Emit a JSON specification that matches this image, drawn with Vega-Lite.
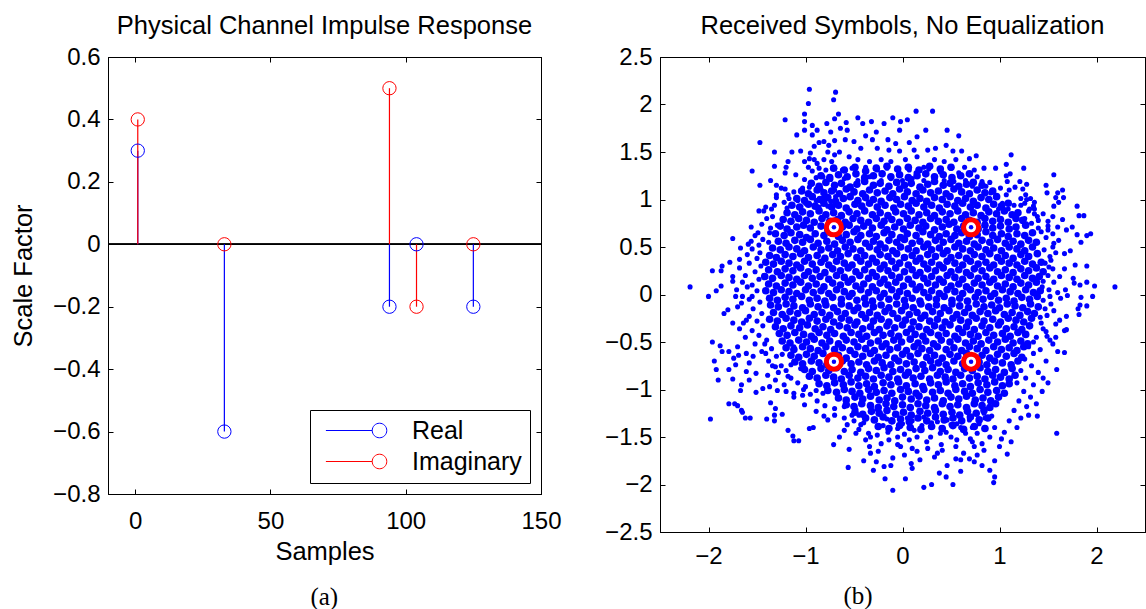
{
"$schema": "https://vega.github.io/schema/vega-lite/v6.json",
"padding": {"left": 11, "top": 13, "right": 0, "bottom": 0},
"background": "white",
"spacing": 42,
"resolve": {"scale": {"color": "independent"}, "legend": {"color": "independent"}},
"config": {
  "font": "Liberation Sans",
  "view": {"stroke": "black", "strokeWidth": 1},
  "axis": {"domainColor": "black", "tickColor": "black", "labelColor": "black", "titleColor": "black", "labelFont": "Liberation Sans", "titleFont": "Liberation Sans", "labelFontSize": 24, "titleFontSize": 25.5, "titleFontWeight": "normal", "grid": false, "tickSize": -5, "labelPadding": 13, "labelFlush": false, "domainWidth": 1, "tickWidth": 1},
  "title": {"font": "Liberation Sans", "fontSize": 25.5, "fontWeight": "normal", "color": "black"}
},
"datasets": {
  "stem": [
    {"n": 1, "v": 0.3, "part": "Real"},
    {"n": 33, "v": -0.6, "part": "Real"},
    {"n": 94, "v": -0.2, "part": "Real"},
    {"n": 104, "v": 0, "part": "Real"},
    {"n": 125, "v": -0.2, "part": "Real"},
    {"n": 1, "v": 0.4, "part": "Imaginary"},
    {"n": 33, "v": 0, "part": "Imaginary"},
    {"n": 94, "v": 0.5, "part": "Imaginary"},
    {"n": 104, "v": -0.2, "part": "Imaginary"},
    {"n": 125, "v": 0, "part": "Imaginary"}
  ],
  "ref": [
    {"x": -0.707, "y": 0.707}, {"x": 0.707, "y": 0.707}, {"x": -0.707, "y": -0.707}, {"x": 0.707, "y": -0.707}
  ],
  "rx": [
{"x":-0.96,"y":2.16},{"x":-0.69,"y":2.13},{"x":-0.71,"y":2.05},{"x":-0.97,"y":2.01},{"x":-1.01,"y":1.90},{"x":-1.21,"y":1.84},{"x":-1.01,"y":1.82},{"x":-0.93,"y":1.78},{"x":-0.78,"y":1.80},{"x":-0.70,"y":1.85},{"x":-1.01,"y":1.73},{"x":-0.88,"y":1.73},{"x":-0.74,"y":1.71},{"x":-1.09,"y":1.68},{"x":-0.93,"y":1.68},{"x":-1.47,"y":1.60},{"x":-0.91,"y":1.56},{"x":-0.86,"y":1.60},{"x":-0.81,"y":1.61},{"x":-0.76,"y":1.57},{"x":-0.70,"y":1.62},{"x":-1.32,"y":1.50},{"x":-1.14,"y":1.50},{"x":-1.05,"y":1.51},{"x":-0.95,"y":1.49},{"x":-0.77,"y":1.50},{"x":-0.70,"y":1.47},{"x":-1.18,"y":1.40},{"x":-1.01,"y":1.40},{"x":-0.96,"y":1.43},{"x":-0.91,"y":1.42},{"x":-0.88,"y":1.38},{"x":-0.81,"y":1.42},{"x":-0.73,"y":1.40},{"x":-1.55,"y":1.30},{"x":-1.32,"y":1.35},{"x":-1.20,"y":1.34},{"x":-0.97,"y":1.34},{"x":-0.93,"y":1.30},{"x":-0.86,"y":1.33},{"x":-0.79,"y":1.31},{"x":-0.70,"y":1.33},{"x":-1.21,"y":1.28},{"x":-1.10,"y":1.26},{"x":-1.01,"y":1.21},{"x":-0.89,"y":1.23},{"x":-0.82,"y":1.24},{"x":-0.74,"y":1.21},{"x":-1.36,"y":1.20},{"x":-1.47,"y":1.15},{"x":-1.30,"y":1.15},{"x":-1.21,"y":1.11},{"x":-1.12,"y":1.08},{"x":-1.03,"y":1.12},{"x":-0.96,"y":1.13},{"x":-0.84,"y":1.11},{"x":-0.70,"y":1.10},{"x":-1.41,"y":0.92},{"x":-1.32,"y":0.94},{"x":-1.30,"y":1.02},{"x":-1.17,"y":1.01},{"x":-1.08,"y":0.99},{"x":-1.00,"y":0.96},{"x":-0.89,"y":0.99},{"x":-0.81,"y":1.02},{"x":-0.74,"y":0.98},{"x":-0.69,"y":1.03},{"x":-1.19,"y":0.91},{"x":-1.05,"y":0.92},{"x":-0.86,"y":0.92},{"x":-0.77,"y":0.93},
{"x":-0.66,"y":1.90},{"x":0.14,"y":1.93},{"x":0.31,"y":1.93},{"x":-0.46,"y":1.86},{"x":-0.32,"y":1.82},{"x":-0.19,"y":1.80},{"x":-0.10,"y":1.86},{"x":-0.02,"y":1.82},{"x":0.05,"y":1.84},{"x":-0.41,"y":1.80},{"x":-0.58,"y":1.81},{"x":-0.64,"y":1.75},{"x":-0.57,"y":1.73},{"x":-0.27,"y":1.71},{"x":-0.03,"y":1.73},{"x":0.24,"y":1.73},{"x":0.46,"y":1.73},{"x":0.58,"y":1.67},{"x":-0.50,"y":1.61},{"x":-0.38,"y":1.67},{"x":-0.31,"y":1.63},{"x":-0.15,"y":1.63},{"x":-0.07,"y":1.59},{"x":0.07,"y":1.60},{"x":0.15,"y":1.66},{"x":-0.59,"y":1.63},{"x":-0.43,"y":1.54},{"x":-0.26,"y":1.54},{"x":-0.14,"y":1.52},{"x":-0.03,"y":1.51},{"x":0.12,"y":1.52},{"x":0.26,"y":1.52},{"x":0.34,"y":1.54},{"x":0.45,"y":1.57},{"x":0.52,"y":1.51},{"x":0.61,"y":1.51},{"x":0.76,"y":1.46},{"x":-0.65,"y":1.50},{"x":-0.55,"y":1.45},{"x":-0.46,"y":1.42},{"x":-0.34,"y":1.40},{"x":-0.22,"y":1.42},{"x":-0.12,"y":1.40},{"x":0.03,"y":1.42},{"x":0.15,"y":1.45},{"x":0.22,"y":1.34},{"x":0.33,"y":1.42},{"x":0.43,"y":1.40},{"x":0.55,"y":1.42},{"x":0.69,"y":1.43},{"x":0.64,"y":1.34},{"x":0.74,"y":1.31},{"x":0.84,"y":1.33},{"x":-0.62,"y":1.31},{"x":-0.52,"y":1.33},{"x":-0.38,"y":1.34},{"x":-0.26,"y":1.31},{"x":-0.16,"y":1.33},{"x":-0.05,"y":1.31},{"x":0.07,"y":1.31},{"x":0.14,"y":1.28},{"x":0.27,"y":1.32},{"x":0.39,"y":1.29},{"x":0.50,"y":1.33},{"x":0.58,"y":1.28},{"x":0.77,"y":1.24},{"x":0.82,"y":1.19},{"x":0.86,"y":1.14},{"x":-0.60,"y":1.22},{"x":-0.46,"y":1.20},{"x":-0.34,"y":1.24},{"x":-0.22,"y":1.20},{"x":-0.12,"y":1.22},{"x":0.00,"y":1.20},{"x":0.10,"y":1.22},{"x":0.22,"y":1.20},{"x":0.33,"y":1.22},{"x":0.43,"y":1.20},{"x":0.53,"y":1.19},{"x":0.65,"y":1.20},{"x":0.72,"y":1.14},
{"x":1.12,"y":1.47},{"x":0.96,"y":1.33},{"x":1.07,"y":1.37},{"x":1.25,"y":1.33},{"x":1.07,"y":1.25},{"x":1.11,"y":1.27},{"x":1.56,"y":1.26},{"x":0.90,"y":1.18},{"x":1.01,"y":1.12},{"x":1.08,"y":1.19},{"x":1.21,"y":1.19},{"x":1.28,"y":1.16},{"x":1.48,"y":1.15},{"x":1.65,"y":1.10},{"x":1.60,"y":1.07},{"x":1.49,"y":1.07},{"x":1.58,"y":1.02},{"x":1.66,"y":1.02},{"x":1.61,"y":0.97},{"x":1.80,"y":0.93},{"x":1.56,"y":0.93},{"x":1.10,"y":1.10},{"x":1.16,"y":1.13},{"x":1.24,"y":1.11},{"x":1.27,"y":1.05},{"x":1.32,"y":1.01},{"x":1.36,"y":0.97},{"x":1.22,"y":1.01},{"x":1.07,"y":1.05},{"x":0.96,"y":1.03},{"x":0.91,"y":1.07},{"x":0.94,"y":0.96},{"x":1.03,"y":0.96},{"x":1.15,"y":0.94},{"x":1.26,"y":0.96},{"x":1.31,"y":0.90},{"x":1.36,"y":0.90},{"x":1.09,"y":0.90},{"x":0.99,"y":0.90},
{"x":-2.19,"y":0.08},{"x":-2.00,"y":-0.02},{"x":-1.92,"y":0.04},{"x":-1.87,"y":0.09},{"x":-1.96,"y":0.25},{"x":-1.87,"y":0.25},{"x":-1.86,"y":0.30},{"x":-1.78,"y":0.34},{"x":-1.75,"y":0.59},{"x":-1.68,"y":0.37},{"x":-1.67,"y":0.49},{"x":-1.59,"y":0.53},{"x":-1.56,"y":0.71},{"x":-1.49,"y":0.65},{"x":-1.48,"y":0.52},{"x":-1.43,"y":0.88},{"x":-1.34,"y":0.82},{"x":-1.29,"y":0.73},{"x":-1.37,"y":0.65},{"x":-1.75,"y":0.19},{"x":-1.75,"y":0.14},{"x":-1.71,"y":0.05},{"x":-1.60,"y":0.08},{"x":-1.65,"y":-0.02},{"x":-1.80,"y":-0.16},{"x":-1.84,"y":-0.20},{"x":-1.70,"y":-0.13},{"x":-1.75,"y":-0.30},{"x":-1.68,"y":-0.36},{"x":-1.61,"y":-0.27},{"x":-1.55,"y":-0.02},
{"x":-1.48,"y":0.88},{"x":-1.40,"y":0.80},{"x":-1.45,"y":0.74},{"x":-1.36,"y":0.70},{"x":-1.52,"y":0.62},{"x":-1.44,"y":0.58},{"x":-1.38,"y":0.55},{"x":-1.55,"y":0.48},{"x":-1.47,"y":0.44},{"x":-1.50,"y":0.38},{"x":-1.58,"y":0.33},{"x":-1.46,"y":0.30},{"x":-1.52,"y":0.24},{"x":-1.62,"y":0.20},{"x":-1.48,"y":0.16},{"x":-1.55,"y":0.10},{"x":-1.65,"y":0.13},{"x":-1.50,"y":0.04},{"x":-1.58,"y":-0.05},{"x":-1.47,"y":-0.08},{"x":-1.66,"y":-0.09},{"x":-1.54,"y":-0.15},{"x":-1.45,"y":-0.20},{"x":-1.58,"y":-0.23},{"x":-1.50,"y":-0.28},{"x":-1.44,"y":-0.33},{"x":-1.55,"y":-0.38},{"x":-1.48,"y":-0.43},{"x":-1.62,"y":-0.45},{"x":-1.40,"y":-0.48},{"x":-1.52,"y":-0.52},{"x":-1.35,"y":-0.57},{"x":-1.45,"y":-0.60},{"x":-1.30,"y":-0.65},{"x":-1.38,"y":-0.70},{"x":-1.25,"y":-0.75},{"x":-1.20,"y":-0.80},{"x":-1.15,"y":-0.88},{"x":-1.08,"y":-0.93},{"x":-1.02,"y":-1.00},{"x":-0.95,"y":-1.05},{"x":-0.88,"y":-1.12},{"x":-0.80,"y":-1.17},{"x":-0.70,"y":-1.20},{"x":-1.28,"y":-0.82},{"x":-1.22,"y":-0.95},{"x":-1.12,"y":-1.08},{"x":-1.42,"y":-0.52},{"x":-1.56,"y":0.56},{"x":-1.60,"y":0.42},{"x":-1.68,"y":0.28},{"x":-1.72,"y":-0.02},{"x":-1.64,"y":-0.30},{"x":-1.70,"y":-0.55},{"x":-1.58,"y":-0.72},{"x":-1.30,"y":1.05},{"x":-1.22,"y":0.97},{"x":-1.35,"y":0.90},{"x":-1.25,"y":1.12},{"x":-1.18,"y":1.05},
{"x":2.19,"y":0.08},{"x":1.98,"y":0.09},{"x":1.96,"y":-0.02},{"x":1.90,"y":0.13},{"x":1.83,"y":0.10},{"x":1.77,"y":0.12},{"x":1.90,"y":0.30},{"x":1.76,"y":0.17},{"x":1.84,"y":-0.03},{"x":1.83,"y":-0.11},{"x":1.90,"y":-0.12},{"x":1.81,"y":-0.15},{"x":1.82,"y":-0.21},{"x":1.69,"y":-0.23},{"x":1.69,"y":-0.37},{"x":1.58,"y":-0.31},{"x":1.62,"y":-0.27},{"x":1.87,"y":0.83},{"x":1.82,"y":0.83},{"x":1.94,"y":0.64},{"x":1.90,"y":0.62},{"x":1.80,"y":0.63},{"x":1.84,"y":0.55},{"x":1.75,"y":0.71},{"x":1.65,"y":0.79},{"x":1.69,"y":0.68},{"x":1.73,"y":0.46},{"x":1.67,"y":0.43},{"x":1.78,"y":0.31},{"x":1.67,"y":0.27},{"x":1.62,"y":0.19},{"x":1.68,"y":0.05},{"x":1.70,"y":-0.01},{"x":1.60,"y":0.02},{"x":1.63,"y":-0.04},{"x":1.53,"y":-0.10},{"x":1.56,"y":-0.17},{"x":1.49,"y":-0.22},{"x":1.43,"y":-0.30},{"x":1.48,"y":-0.39},{"x":1.58,"y":-0.45},{"x":1.49,"y":-0.44},{"x":1.61,"y":0.57},{"x":1.56,"y":0.54},{"x":1.55,"y":0.64},{"x":1.50,"y":0.68},{"x":1.60,"y":0.71},{"x":1.50,"y":0.77},{"x":1.39,"y":0.82},{"x":1.36,"y":0.85},{"x":1.55,"y":0.82},{"x":1.53,"y":0.36},{"x":1.51,"y":0.29},{"x":1.56,"y":0.13},{"x":1.51,"y":0.05},{"x":1.44,"y":0.08},
{"x":1.45,"y":0.85},{"x":1.40,"y":0.78},{"x":1.50,"y":0.72},{"x":1.43,"y":0.66},{"x":1.48,"y":0.60},{"x":1.55,"y":0.50},{"x":1.46,"y":0.47},{"x":1.52,"y":0.40},{"x":1.58,"y":0.44},{"x":1.47,"y":0.33},{"x":1.55,"y":0.27},{"x":1.50,"y":0.20},{"x":1.45,"y":0.14},{"x":1.52,"y":-0.02},{"x":1.45,"y":-0.06},{"x":1.47,"y":-0.15},{"x":1.42,"y":-0.24},{"x":1.45,"y":-0.36},{"x":1.38,"y":-0.45},{"x":1.35,"y":-0.50},{"x":1.28,"y":1.00},{"x":1.22,"y":0.94},{"x":1.30,"y":0.88},{"x":1.35,"y":0.93},{"x":1.26,"y":0.80},{"x":1.33,"y":0.75},{"x":1.40,"y":0.70},
{"x":-1.98,"y":-1.31},{"x":-1.96,"y":-0.50},{"x":-1.88,"y":-0.54},{"x":-1.94,"y":-0.70},{"x":-1.92,"y":-0.79},{"x":-1.90,"y":-0.90},{"x":-1.86,"y":-0.60},{"x":-1.79,"y":-0.60},{"x":-1.79,"y":-0.79},{"x":-1.75,"y":-0.89},{"x":-1.79,"y":-1.15},{"x":-1.70,"y":-1.17},{"x":-1.66,"y":-1.22},{"x":-1.65,"y":-1.24},{"x":-1.62,"y":-1.30},{"x":-1.40,"y":-1.31},{"x":-1.32,"y":-1.27},{"x":-1.32,"y":-1.33},{"x":-1.24,"y":-1.26},{"x":-1.18,"y":-1.43},{"x":-1.13,"y":-1.49},{"x":-1.12,"y":-1.54},{"x":-0.96,"y":-1.41},{"x":-0.71,"y":-1.58},{"x":-1.31,"y":-1.20},{"x":-1.36,"y":-1.14},{"x":-1.51,"y":-1.03},{"x":-1.67,"y":-1.01},{"x":-1.66,"y":-0.95},{"x":-1.72,"y":-0.74},{"x":-1.74,"y":-0.67},{"x":-1.69,"y":-0.64},{"x":-1.61,"y":-0.62},{"x":-1.54,"y":-0.65},{"x":-1.41,"y":-0.62},{"x":-1.24,"y":-0.63},{"x":-1.12,"y":-0.55},{"x":-1.15,"y":-0.74},{"x":-1.18,"y":-0.86},{"x":-1.37,"y":-0.97},{"x":-1.44,"y":-0.99},{"x":-1.51,"y":-0.83},{"x":-1.61,"y":-0.81},{"x":-1.58,"y":-0.90},{"x":-1.29,"y":-1.01},{"x":-1.20,"y":-1.02},{"x":-1.12,"y":-1.04},{"x":-1.01,"y":-1.16},{"x":-0.89,"y":-1.23},{"x":-0.81,"y":-1.28},{"x":-0.77,"y":-1.32},{"x":-0.70,"y":-1.27},{"x":-1.34,"y":-0.75},{"x":-1.31,"y":-0.76},{"x":-1.05,"y":-0.78},{"x":-0.93,"y":-0.81},{"x":-1.00,"y":-0.97},{"x":-0.89,"y":-1.01},{"x":-0.82,"y":-1.04},{"x":-1.03,"y":-1.06},{"x":-1.31,"y":-0.90},{"x":-1.39,"y":-0.85},
{"x":-0.60,"y":-1.30},{"x":-0.60,"y":-1.43},{"x":-0.57,"y":-1.37},{"x":-0.48,"y":-1.46},{"x":-0.52,"y":-1.27},{"x":-0.45,"y":-1.27},{"x":-0.43,"y":-1.37},{"x":-0.38,"y":-1.53},{"x":-0.34,"y":-1.60},{"x":-0.33,"y":-1.67},{"x":-0.27,"y":-1.76},{"x":-0.22,"y":-1.57},{"x":-0.19,"y":-1.81},{"x":-0.14,"y":-1.53},{"x":-0.10,"y":-1.72},{"x":-0.05,"y":-1.50},{"x":-0.02,"y":-1.60},{"x":0.02,"y":-1.69},{"x":0.07,"y":-1.53},{"x":0.09,"y":-1.78},{"x":0.15,"y":-1.65},{"x":0.18,"y":-1.74},{"x":0.26,"y":-1.62},{"x":0.33,"y":-1.71},{"x":0.36,"y":-1.67},{"x":0.41,"y":-1.64},{"x":0.46,"y":-1.80},{"x":0.55,"y":-1.73},{"x":0.60,"y":-1.74},{"x":0.63,"y":-1.67},{"x":0.69,"y":-1.73},{"x":0.72,"y":-1.55},{"x":0.74,"y":-1.60},{"x":0.77,"y":-1.69},{"x":0.82,"y":-1.57},{"x":0.84,"y":-1.64},{"x":-0.33,"y":-1.50},{"x":-0.26,"y":-1.48},{"x":-0.05,"y":-1.41},{"x":0.12,"y":-1.43},{"x":0.29,"y":-1.50},{"x":0.39,"y":-1.46},{"x":0.50,"y":-1.50},{"x":0.56,"y":-1.53},{"x":0.65,"y":-1.46},{"x":0.77,"y":-1.46},{"x":-0.60,"y":-1.18},{"x":-0.48,"y":-1.21},{"x":-0.26,"y":-1.21},{"x":-0.16,"y":-1.31},{"x":0.05,"y":-1.30},{"x":0.22,"y":-1.29},{"x":0.36,"y":-1.34},{"x":0.46,"y":-1.32},{"x":0.56,"y":-1.36},{"x":0.69,"y":-1.32},{"x":0.79,"y":-1.36},{"x":0.84,"y":-1.25},
{"x":-0.50,"y":-1.33},{"x":-0.40,"y":-1.35},{"x":-0.30,"y":-1.32},{"x":-0.20,"y":-1.38},{"x":-0.10,"y":-1.34},{"x":0.00,"y":-1.36},{"x":0.10,"y":-1.33},{"x":0.20,"y":-1.38},{"x":0.30,"y":-1.35},{"x":0.40,"y":-1.40},{"x":0.50,"y":-1.37},{"x":0.60,"y":-1.40},{"x":0.72,"y":-1.40},{"x":0.85,"y":-1.30},{"x":0.92,"y":-1.28},{"x":0.95,"y":-1.40},{"x":0.90,"y":-1.50},{"x":-0.15,"y":-1.45},{"x":0.02,"y":-1.47},{"x":0.15,"y":-1.50},{"x":0.45,"y":-1.45},{"x":-0.45,"y":-1.42},{"x":-0.35,"y":-1.46},{"x":0.70,"y":-1.52},{"x":0.25,"y":-1.55},{"x":-0.05,"y":-1.58},{"x":0.55,"y":-1.60},{"x":-0.25,"y":-1.65},{"x":0.10,"y":-1.62},{"x":0.40,"y":-1.58},
{"x":0.95,"y":-1.92},{"x":0.94,"y":-1.98},{"x":0.52,"y":-2.00},{"x":0.22,"y":-2.03},{"x":0.30,"y":-2.00},{"x":-0.10,"y":-2.06},{"x":0.03,"y":-1.94},{"x":-0.18,"y":-1.94},{"x":-0.56,"y":-1.82},{"x":-0.92,"y":-1.40},{"x":-1.07,"y":-1.54},{"x":-1.57,"y":-1.30},{"x":-1.73,"y":-1.15},{"x":0.74,"y":-1.76},{"x":0.82,"y":-1.80},{"x":0.60,"y":-1.86},{"x":0.38,"y":-1.88},{"x":-0.40,"y":-1.75},{"x":-0.30,"y":-1.85},{"x":0.10,"y":-1.83},{"x":0.45,"y":-1.92},{"x":-0.12,"y":-1.80},{"x":-0.55,"y":-1.63},{"x":-0.65,"y":-1.50},
{"x":1.67,"y":-0.38},{"x":1.67,"y":-0.61},{"x":1.59,"y":-0.79},{"x":1.50,"y":-0.93},{"x":1.59,"y":-1.46},{"x":1.39,"y":-1.28},{"x":1.30,"y":-0.55},{"x":1.35,"y":-0.62},{"x":1.42,"y":-0.58},{"x":1.48,"y":-0.70},{"x":1.33,"y":-0.75},{"x":1.40,"y":-0.82},{"x":1.27,"y":-0.88},{"x":1.35,"y":-0.95},{"x":1.45,"y":-0.88},{"x":1.25,"y":-1.02},{"x":1.32,"y":-1.08},{"x":1.20,"y":-1.12},{"x":1.28,"y":-1.18},{"x":1.15,"y":-1.22},{"x":1.22,"y":-1.30},{"x":1.10,"y":-1.33},{"x":1.18,"y":-1.40},{"x":1.05,"y":-1.45},{"x":1.55,"y":-0.52},{"x":1.60,"y":-0.60},{"x":1.52,"y":-0.48},{"x":1.44,"y":-1.02},{"x":1.38,"y":-1.15},{"x":1.30,"y":-1.27},{"x":1.12,"y":-1.55},{"x":1.00,"y":-1.60},{"x":1.08,"y":-1.68},{"x":0.95,"y":-1.75},{"x":0.90,"y":-1.85},{"x":1.02,"y":-1.52},{"x":1.26,"y":-0.68},{"x":1.22,"y":-0.80},{"x":1.18,"y":-0.93}
  ],
  "core": [
{"x":-0.71,"y":1.33},{"x":-0.60,"y":1.31},{"x":-0.49,"y":1.34},{"x":-0.38,"y":1.30},{"x":-0.27,"y":1.33},{"x":-0.16,"y":1.35},{"x":-0.05,"y":1.32},{"x":0.06,"y":1.34},{"x":0.17,"y":1.31},{"x":0.28,"y":1.35},{"x":0.39,"y":1.32},{"x":0.50,"y":1.34},
{"x":-0.84,"y":1.25},{"x":-0.75,"y":1.23},{"x":-0.66,"y":1.26},{"x":-0.57,"y":1.24},{"x":-0.48,"y":1.27},{"x":-0.39,"y":1.23},{"x":-0.30,"y":1.25},{"x":-0.21,"y":1.27},{"x":-0.12,"y":1.24},{"x":-0.03,"y":1.26},{"x":0.06,"y":1.23},{"x":0.15,"y":1.25},{"x":0.24,"y":1.27},{"x":0.33,"y":1.24},{"x":0.42,"y":1.26},{"x":0.51,"y":1.23},{"x":0.60,"y":1.25},{"x":0.69,"y":1.27},
{"x":-0.94,"y":1.17},{"x":-0.86,"y":1.14},{"x":-0.79,"y":1.18},{"x":-0.70,"y":1.15},{"x":-0.63,"y":1.17},{"x":-0.54,"y":1.13},{"x":-0.47,"y":1.16},{"x":-0.39,"y":1.19},{"x":-0.30,"y":1.15},{"x":-0.23,"y":1.17},{"x":-0.14,"y":1.14},{"x":-0.06,"y":1.18},{"x":0.02,"y":1.15},{"x":0.09,"y":1.17},{"x":0.18,"y":1.13},{"x":0.26,"y":1.16},{"x":0.33,"y":1.19},{"x":0.42,"y":1.15},{"x":0.49,"y":1.17},{"x":0.58,"y":1.14},{"x":0.66,"y":1.16},{"x":0.73,"y":1.18},{"x":0.82,"y":1.15},
{"x":-1.04,"y":1.09},{"x":-0.97,"y":1.06},{"x":-0.88,"y":1.10},{"x":-0.81,"y":1.07},{"x":-0.73,"y":1.09},{"x":-0.65,"y":1.06},{"x":-0.58,"y":1.11},{"x":-0.50,"y":1.08},{"x":-0.41,"y":1.06},{"x":-0.34,"y":1.10},{"x":-0.26,"y":1.07},{"x":-0.18,"y":1.09},{"x":-0.10,"y":1.06},{"x":-0.03,"y":1.11},{"x":0.05,"y":1.08},{"x":0.14,"y":1.06},{"x":0.21,"y":1.10},{"x":0.29,"y":1.07},{"x":0.37,"y":1.09},{"x":0.45,"y":1.06},{"x":0.53,"y":1.11},{"x":0.61,"y":1.08},{"x":0.69,"y":1.06},{"x":0.77,"y":1.10},{"x":0.85,"y":1.07},{"x":0.93,"y":1.09},
{"x":-1.09,"y":1.01},{"x":-1.01,"y":0.99},{"x":-0.93,"y":1.03},{"x":-0.85,"y":1.00},{"x":-0.77,"y":1.02},{"x":-0.69,"y":0.98},{"x":-0.61,"y":1.01},{"x":-0.54,"y":1.03},{"x":-0.46,"y":0.99},{"x":-0.38,"y":1.02},{"x":-0.30,"y":1.00},{"x":-0.22,"y":0.98},{"x":-0.13,"y":1.02},{"x":-0.06,"y":1.00},{"x":0.02,"y":1.03},{"x":0.10,"y":0.99},{"x":0.18,"y":1.01},{"x":0.25,"y":0.98},{"x":0.33,"y":1.02},{"x":0.41,"y":1.00},{"x":0.49,"y":1.03},{"x":0.57,"y":0.99},{"x":0.65,"y":1.01},{"x":0.73,"y":0.98},{"x":0.81,"y":1.02},{"x":0.89,"y":1.00},{"x":0.97,"y":1.03},
{"x":-1.14,"y":0.94},{"x":-1.06,"y":0.92},{"x":-0.97,"y":0.95},{"x":-0.90,"y":0.93},{"x":-0.81,"y":0.96},{"x":-0.73,"y":0.92},{"x":-0.66,"y":0.94},{"x":-0.58,"y":0.91},{"x":-0.49,"y":0.95},{"x":-0.42,"y":0.93},{"x":-0.34,"y":0.96},{"x":-0.26,"y":0.92},{"x":-0.18,"y":0.94},{"x":-0.09,"y":0.91},{"x":-0.02,"y":0.95},{"x":0.06,"y":0.93},{"x":0.14,"y":0.96},{"x":0.22,"y":0.92},{"x":0.30,"y":0.94},{"x":0.38,"y":0.91},{"x":0.46,"y":0.95},{"x":0.54,"y":0.93},{"x":0.62,"y":0.96},{"x":0.70,"y":0.92},{"x":0.77,"y":0.94},{"x":0.86,"y":0.91},{"x":0.94,"y":0.95},{"x":1.02,"y":0.93},{"x":1.09,"y":0.96},
{"x":-1.19,"y":0.86},{"x":-1.11,"y":0.84},{"x":-1.03,"y":0.87},{"x":-0.95,"y":0.85},{"x":-0.86,"y":0.88},{"x":-0.79,"y":0.84},{"x":-0.71,"y":0.86},{"x":-0.63,"y":0.83},{"x":-0.55,"y":0.87},{"x":-0.47,"y":0.85},{"x":-0.39,"y":0.88},{"x":-0.31,"y":0.84},{"x":-0.23,"y":0.86},{"x":-0.15,"y":0.83},{"x":-0.07,"y":0.87},{"x":0.01,"y":0.85},{"x":0.09,"y":0.88},{"x":0.17,"y":0.84},{"x":0.25,"y":0.86},{"x":0.33,"y":0.83},{"x":0.41,"y":0.87},{"x":0.49,"y":0.85},{"x":0.57,"y":0.88},{"x":0.65,"y":0.84},{"x":0.73,"y":0.86},{"x":0.81,"y":0.83},{"x":0.89,"y":0.87},{"x":0.97,"y":0.85},{"x":1.05,"y":0.88},{"x":1.13,"y":0.84},{"x":1.19,"y":0.86},
{"x":-1.23,"y":0.79},{"x":-1.15,"y":0.77},{"x":-1.07,"y":0.80},{"x":-0.99,"y":0.78},{"x":-0.91,"y":0.76},{"x":-0.83,"y":0.80},{"x":-0.75,"y":0.77},{"x":-0.67,"y":0.79},{"x":-0.59,"y":0.76},{"x":-0.51,"y":0.80},{"x":-0.43,"y":0.78},{"x":-0.35,"y":0.76},{"x":-0.27,"y":0.80},{"x":-0.19,"y":0.77},{"x":-0.11,"y":0.79},{"x":-0.03,"y":0.76},{"x":0.05,"y":0.80},{"x":0.13,"y":0.78},{"x":0.21,"y":0.76},{"x":0.29,"y":0.80},{"x":0.37,"y":0.77},{"x":0.45,"y":0.79},{"x":0.53,"y":0.76},{"x":0.61,"y":0.80},{"x":0.69,"y":0.78},{"x":0.77,"y":0.76},{"x":0.85,"y":0.80},{"x":0.93,"y":0.77},{"x":1.01,"y":0.79},{"x":1.09,"y":0.76},{"x":1.17,"y":0.80},{"x":1.24,"y":0.78},
{"x":-1.26,"y":0.72},{"x":-1.19,"y":0.69},{"x":-1.09,"y":0.71},{"x":-1.02,"y":0.73},{"x":-0.95,"y":0.70},{"x":-0.84,"y":0.72},{"x":-0.77,"y":0.68},{"x":-0.62,"y":0.71},{"x":-0.55,"y":0.73},{"x":-0.47,"y":0.69},{"x":-0.40,"y":0.72},{"x":-0.31,"y":0.70},{"x":-0.22,"y":0.73},{"x":-0.16,"y":0.68},{"x":-0.08,"y":0.71},{"x":0.01,"y":0.69},{"x":0.08,"y":0.73},{"x":0.17,"y":0.70},{"x":0.24,"y":0.72},{"x":0.33,"y":0.68},{"x":0.41,"y":0.71},{"x":0.48,"y":0.74},{"x":0.56,"y":0.69},{"x":0.63,"y":0.72},{"x":0.78,"y":0.69},{"x":0.85,"y":0.73},{"x":0.93,"y":0.70},{"x":1.01,"y":0.72},{"x":1.10,"y":0.69},{"x":1.17,"y":0.71},{"x":1.27,"y":0.73},
{"x":-1.31,"y":0.64},{"x":-1.22,"y":0.62},{"x":-1.15,"y":0.65},{"x":-1.06,"y":0.63},{"x":-0.99,"y":0.60},{"x":-0.90,"y":0.64},{"x":-0.81,"y":0.62},{"x":-0.74,"y":0.65},{"x":-0.66,"y":0.61},{"x":-0.58,"y":0.63},{"x":-0.50,"y":0.66},{"x":-0.43,"y":0.62},{"x":-0.34,"y":0.64},{"x":-0.27,"y":0.61},{"x":-0.19,"y":0.65},{"x":-0.11,"y":0.63},{"x":-0.02,"y":0.60},{"x":0.05,"y":0.64},{"x":0.14,"y":0.62},{"x":0.21,"y":0.66},{"x":0.29,"y":0.63},{"x":0.38,"y":0.61},{"x":0.45,"y":0.64},{"x":0.54,"y":0.62},{"x":0.61,"y":0.65},{"x":0.69,"y":0.61},{"x":0.77,"y":0.63},{"x":0.86,"y":0.66},{"x":0.93,"y":0.62},{"x":1.02,"y":0.64},{"x":1.09,"y":0.61},{"x":1.18,"y":0.64},{"x":1.26,"y":0.62},{"x":1.34,"y":0.65},
{"x":-1.28,"y":0.56},{"x":-1.20,"y":0.54},{"x":-1.11,"y":0.57},{"x":-1.03,"y":0.55},{"x":-0.95,"y":0.58},{"x":-0.87,"y":0.54},{"x":-0.78,"y":0.56},{"x":-0.70,"y":0.53},{"x":-0.62,"y":0.57},{"x":-0.54,"y":0.55},{"x":-0.46,"y":0.58},{"x":-0.38,"y":0.54},{"x":-0.30,"y":0.56},{"x":-0.23,"y":0.53},{"x":-0.14,"y":0.57},{"x":-0.06,"y":0.55},{"x":0.02,"y":0.58},{"x":0.10,"y":0.54},{"x":0.18,"y":0.56},{"x":0.26,"y":0.53},{"x":0.34,"y":0.57},{"x":0.42,"y":0.55},{"x":0.50,"y":0.58},{"x":0.58,"y":0.54},{"x":0.66,"y":0.56},{"x":0.74,"y":0.53},{"x":0.82,"y":0.57},{"x":0.90,"y":0.55},{"x":0.98,"y":0.58},{"x":1.06,"y":0.54},{"x":1.14,"y":0.56},{"x":1.22,"y":0.53},{"x":1.30,"y":0.57},{"x":1.38,"y":0.55},
{"x":-1.34,"y":0.49},{"x":-1.26,"y":0.47},{"x":-1.17,"y":0.50},{"x":-1.09,"y":0.48},{"x":-1.01,"y":0.46},{"x":-0.92,"y":0.50},{"x":-0.84,"y":0.47},{"x":-0.76,"y":0.49},{"x":-0.67,"y":0.46},{"x":-0.59,"y":0.50},{"x":-0.51,"y":0.48},{"x":-0.43,"y":0.46},{"x":-0.34,"y":0.50},{"x":-0.26,"y":0.47},{"x":-0.18,"y":0.49},{"x":-0.10,"y":0.46},{"x":-0.02,"y":0.50},{"x":0.06,"y":0.48},{"x":0.14,"y":0.46},{"x":0.22,"y":0.50},{"x":0.30,"y":0.47},{"x":0.38,"y":0.49},{"x":0.46,"y":0.46},{"x":0.54,"y":0.50},{"x":0.62,"y":0.48},{"x":0.70,"y":0.46},{"x":0.78,"y":0.50},{"x":0.86,"y":0.47},{"x":0.94,"y":0.49},{"x":1.02,"y":0.46},{"x":1.10,"y":0.50},{"x":1.18,"y":0.48},{"x":1.26,"y":0.46},{"x":1.34,"y":0.50},
{"x":-1.37,"y":0.41},{"x":-1.30,"y":0.39},{"x":-1.21,"y":0.42},{"x":-1.13,"y":0.40},{"x":-1.05,"y":0.43},{"x":-0.97,"y":0.39},{"x":-0.88,"y":0.41},{"x":-0.80,"y":0.38},{"x":-0.72,"y":0.42},{"x":-0.64,"y":0.40},{"x":-0.56,"y":0.43},{"x":-0.47,"y":0.39},{"x":-0.39,"y":0.41},{"x":-0.31,"y":0.38},{"x":-0.23,"y":0.42},{"x":-0.15,"y":0.40},{"x":-0.06,"y":0.43},{"x":0.02,"y":0.39},{"x":0.10,"y":0.41},{"x":0.18,"y":0.38},{"x":0.26,"y":0.42},{"x":0.34,"y":0.40},{"x":0.42,"y":0.43},{"x":0.50,"y":0.39},{"x":0.58,"y":0.41},{"x":0.66,"y":0.38},{"x":0.74,"y":0.42},{"x":0.82,"y":0.40},{"x":0.90,"y":0.43},{"x":0.98,"y":0.39},{"x":1.06,"y":0.41},{"x":1.14,"y":0.38},{"x":1.22,"y":0.42},{"x":1.30,"y":0.40},{"x":1.39,"y":0.43},
{"x":-1.41,"y":0.34},{"x":-1.33,"y":0.32},{"x":-1.25,"y":0.35},{"x":-1.17,"y":0.33},{"x":-1.09,"y":0.31},{"x":-1.01,"y":0.35},{"x":-0.93,"y":0.32},{"x":-0.84,"y":0.34},{"x":-0.76,"y":0.31},{"x":-0.68,"y":0.35},{"x":-0.60,"y":0.33},{"x":-0.52,"y":0.31},{"x":-0.43,"y":0.35},{"x":-0.35,"y":0.32},{"x":-0.27,"y":0.34},{"x":-0.19,"y":0.31},{"x":-0.11,"y":0.35},{"x":-0.03,"y":0.33},{"x":0.06,"y":0.31},{"x":0.14,"y":0.35},{"x":0.22,"y":0.32},{"x":0.30,"y":0.34},{"x":0.38,"y":0.31},{"x":0.46,"y":0.35},{"x":0.54,"y":0.33},{"x":0.62,"y":0.31},{"x":0.70,"y":0.35},{"x":0.78,"y":0.32},{"x":0.86,"y":0.34},{"x":0.94,"y":0.31},{"x":1.02,"y":0.35},{"x":1.10,"y":0.33},{"x":1.18,"y":0.31},{"x":1.26,"y":0.35},{"x":1.34,"y":0.32},{"x":1.43,"y":0.34},
{"x":-1.38,"y":0.26},{"x":-1.29,"y":0.24},{"x":-1.21,"y":0.27},{"x":-1.13,"y":0.25},{"x":-1.05,"y":0.28},{"x":-0.97,"y":0.24},{"x":-0.89,"y":0.26},{"x":-0.80,"y":0.23},{"x":-0.72,"y":0.27},{"x":-0.64,"y":0.25},{"x":-0.56,"y":0.28},{"x":-0.48,"y":0.24},{"x":-0.39,"y":0.26},{"x":-0.31,"y":0.23},{"x":-0.23,"y":0.27},{"x":-0.15,"y":0.25},{"x":-0.07,"y":0.28},{"x":0.02,"y":0.24},{"x":0.10,"y":0.26},{"x":0.18,"y":0.23},{"x":0.26,"y":0.27},{"x":0.34,"y":0.25},{"x":0.42,"y":0.28},{"x":0.50,"y":0.24},{"x":0.58,"y":0.26},{"x":0.66,"y":0.23},{"x":0.74,"y":0.27},{"x":0.82,"y":0.25},{"x":0.90,"y":0.28},{"x":0.98,"y":0.24},{"x":1.06,"y":0.26},{"x":1.14,"y":0.23},{"x":1.22,"y":0.27},{"x":1.30,"y":0.25},{"x":1.38,"y":0.28},{"x":1.45,"y":0.24},
{"x":-1.42,"y":0.19},{"x":-1.34,"y":0.17},{"x":-1.25,"y":0.20},{"x":-1.17,"y":0.18},{"x":-1.09,"y":0.16},{"x":-1.01,"y":0.20},{"x":-0.93,"y":0.17},{"x":-0.85,"y":0.19},{"x":-0.76,"y":0.16},{"x":-0.68,"y":0.20},{"x":-0.60,"y":0.18},{"x":-0.52,"y":0.16},{"x":-0.44,"y":0.20},{"x":-0.35,"y":0.17},{"x":-0.27,"y":0.19},{"x":-0.19,"y":0.16},{"x":-0.11,"y":0.20},{"x":-0.03,"y":0.18},{"x":0.06,"y":0.16},{"x":0.14,"y":0.20},{"x":0.22,"y":0.17},{"x":0.30,"y":0.19},{"x":0.38,"y":0.16},{"x":0.46,"y":0.20},{"x":0.54,"y":0.18},{"x":0.62,"y":0.16},{"x":0.70,"y":0.20},{"x":0.78,"y":0.17},{"x":0.86,"y":0.19},{"x":0.94,"y":0.16},{"x":1.02,"y":0.20},{"x":1.10,"y":0.18},{"x":1.18,"y":0.16},{"x":1.26,"y":0.20},{"x":1.34,"y":0.17},{"x":1.41,"y":0.19},
{"x":-1.38,"y":0.11},{"x":-1.30,"y":0.09},{"x":-1.21,"y":0.12},{"x":-1.13,"y":0.10},{"x":-1.05,"y":0.13},{"x":-0.97,"y":0.09},{"x":-0.89,"y":0.11},{"x":-0.81,"y":0.08},{"x":-0.72,"y":0.12},{"x":-0.64,"y":0.10},{"x":-0.56,"y":0.13},{"x":-0.48,"y":0.09},{"x":-0.40,"y":0.11},{"x":-0.31,"y":0.08},{"x":-0.23,"y":0.12},{"x":-0.15,"y":0.10},{"x":-0.07,"y":0.13},{"x":0.01,"y":0.09},{"x":0.10,"y":0.11},{"x":0.18,"y":0.08},{"x":0.26,"y":0.12},{"x":0.34,"y":0.10},{"x":0.42,"y":0.13},{"x":0.50,"y":0.09},{"x":0.58,"y":0.11},{"x":0.66,"y":0.08},{"x":0.74,"y":0.12},{"x":0.82,"y":0.10},{"x":0.90,"y":0.13},{"x":0.98,"y":0.09},{"x":1.06,"y":0.11},{"x":1.14,"y":0.08},{"x":1.22,"y":0.12},{"x":1.30,"y":0.10},{"x":1.38,"y":0.13},
{"x":-1.41,"y":0.04},{"x":-1.33,"y":0.02},{"x":-1.25,"y":0.05},{"x":-1.17,"y":0.03},{"x":-1.09,"y":0.01},{"x":-1.00,"y":0.05},{"x":-0.92,"y":0.02},{"x":-0.84,"y":0.04},{"x":-0.76,"y":0.01},{"x":-0.68,"y":0.05},{"x":-0.60,"y":0.03},{"x":-0.52,"y":0.01},{"x":-0.43,"y":0.05},{"x":-0.35,"y":0.02},{"x":-0.27,"y":0.04},{"x":-0.19,"y":0.01},{"x":-0.11,"y":0.05},{"x":-0.03,"y":0.03},{"x":0.05,"y":0.01},{"x":0.14,"y":0.05},{"x":0.22,"y":0.02},{"x":0.30,"y":0.04},{"x":0.38,"y":0.01},{"x":0.46,"y":0.05},{"x":0.54,"y":0.03},{"x":0.62,"y":0.01},{"x":0.70,"y":0.05},{"x":0.78,"y":0.02},{"x":0.86,"y":0.04},{"x":0.95,"y":0.01},{"x":1.03,"y":0.05},{"x":1.11,"y":0.03},{"x":1.19,"y":0.01},{"x":1.27,"y":0.05},{"x":1.35,"y":0.02},{"x":1.42,"y":0.04},
{"x":-1.37,"y":-0.04},{"x":-1.29,"y":-0.06},{"x":-1.21,"y":-0.03},{"x":-1.13,"y":-0.05},{"x":-1.04,"y":-0.02},{"x":-0.96,"y":-0.06},{"x":-0.88,"y":-0.04},{"x":-0.80,"y":-0.07},{"x":-0.72,"y":-0.03},{"x":-0.63,"y":-0.05},{"x":-0.55,"y":-0.02},{"x":-0.47,"y":-0.06},{"x":-0.39,"y":-0.04},{"x":-0.31,"y":-0.07},{"x":-0.23,"y":-0.03},{"x":-0.14,"y":-0.05},{"x":-0.06,"y":-0.02},{"x":0.02,"y":-0.06},{"x":0.10,"y":-0.04},{"x":0.18,"y":-0.07},{"x":0.27,"y":-0.03},{"x":0.35,"y":-0.05},{"x":0.43,"y":-0.02},{"x":0.51,"y":-0.06},{"x":0.59,"y":-0.04},{"x":0.67,"y":-0.07},{"x":0.75,"y":-0.03},{"x":0.83,"y":-0.05},{"x":0.91,"y":-0.02},{"x":0.99,"y":-0.06},{"x":1.07,"y":-0.04},{"x":1.15,"y":-0.07},{"x":1.23,"y":-0.03},{"x":1.31,"y":-0.05},{"x":1.39,"y":-0.02},
{"x":-1.36,"y":-0.11},{"x":-1.28,"y":-0.13},{"x":-1.20,"y":-0.10},{"x":-1.12,"y":-0.12},{"x":-1.03,"y":-0.14},{"x":-0.95,"y":-0.10},{"x":-0.87,"y":-0.13},{"x":-0.79,"y":-0.11},{"x":-0.71,"y":-0.14},{"x":-0.63,"y":-0.10},{"x":-0.55,"y":-0.12},{"x":-0.46,"y":-0.14},{"x":-0.38,"y":-0.10},{"x":-0.30,"y":-0.13},{"x":-0.22,"y":-0.11},{"x":-0.14,"y":-0.14},{"x":-0.06,"y":-0.10},{"x":0.03,"y":-0.12},{"x":0.11,"y":-0.14},{"x":0.19,"y":-0.10},{"x":0.27,"y":-0.13},{"x":0.35,"y":-0.11},{"x":0.43,"y":-0.14},{"x":0.51,"y":-0.10},{"x":0.59,"y":-0.12},{"x":0.68,"y":-0.14},{"x":0.76,"y":-0.10},{"x":0.84,"y":-0.13},{"x":0.92,"y":-0.11},{"x":1.00,"y":-0.14},{"x":1.08,"y":-0.10},{"x":1.16,"y":-0.12},{"x":1.24,"y":-0.14},{"x":1.32,"y":-0.10},{"x":1.40,"y":-0.13},
{"x":-1.33,"y":-0.19},{"x":-1.24,"y":-0.21},{"x":-1.16,"y":-0.18},{"x":-1.08,"y":-0.20},{"x":-1.00,"y":-0.17},{"x":-0.91,"y":-0.21},{"x":-0.83,"y":-0.19},{"x":-0.75,"y":-0.22},{"x":-0.67,"y":-0.18},{"x":-0.59,"y":-0.20},{"x":-0.50,"y":-0.17},{"x":-0.42,"y":-0.21},{"x":-0.34,"y":-0.19},{"x":-0.26,"y":-0.22},{"x":-0.18,"y":-0.18},{"x":-0.10,"y":-0.20},{"x":-0.01,"y":-0.17},{"x":0.07,"y":-0.21},{"x":0.15,"y":-0.19},{"x":0.23,"y":-0.22},{"x":0.31,"y":-0.18},{"x":0.39,"y":-0.20},{"x":0.48,"y":-0.17},{"x":0.56,"y":-0.21},{"x":0.64,"y":-0.19},{"x":0.72,"y":-0.22},{"x":0.80,"y":-0.18},{"x":0.88,"y":-0.20},{"x":0.96,"y":-0.17},{"x":1.05,"y":-0.21},{"x":1.13,"y":-0.19},{"x":1.21,"y":-0.22},{"x":1.29,"y":-0.18},{"x":1.36,"y":-0.20},
{"x":-1.37,"y":-0.26},{"x":-1.29,"y":-0.28},{"x":-1.20,"y":-0.25},{"x":-1.12,"y":-0.27},{"x":-1.04,"y":-0.29},{"x":-0.96,"y":-0.25},{"x":-0.88,"y":-0.28},{"x":-0.79,"y":-0.26},{"x":-0.71,"y":-0.29},{"x":-0.63,"y":-0.25},{"x":-0.55,"y":-0.27},{"x":-0.47,"y":-0.29},{"x":-0.38,"y":-0.25},{"x":-0.30,"y":-0.28},{"x":-0.22,"y":-0.26},{"x":-0.14,"y":-0.29},{"x":-0.05,"y":-0.25},{"x":0.03,"y":-0.27},{"x":0.11,"y":-0.29},{"x":0.19,"y":-0.25},{"x":0.28,"y":-0.28},{"x":0.36,"y":-0.26},{"x":0.44,"y":-0.29},{"x":0.52,"y":-0.25},{"x":0.60,"y":-0.27},{"x":0.68,"y":-0.29},{"x":0.76,"y":-0.25},{"x":0.84,"y":-0.28},{"x":0.93,"y":-0.26},{"x":1.01,"y":-0.29},{"x":1.09,"y":-0.25},{"x":1.17,"y":-0.27},{"x":1.25,"y":-0.29},{"x":1.33,"y":-0.25},
{"x":-1.31,"y":-0.34},{"x":-1.23,"y":-0.36},{"x":-1.15,"y":-0.33},{"x":-1.06,"y":-0.35},{"x":-0.98,"y":-0.32},{"x":-0.90,"y":-0.36},{"x":-0.82,"y":-0.34},{"x":-0.74,"y":-0.37},{"x":-0.65,"y":-0.33},{"x":-0.57,"y":-0.35},{"x":-0.49,"y":-0.32},{"x":-0.41,"y":-0.36},{"x":-0.33,"y":-0.34},{"x":-0.24,"y":-0.37},{"x":-0.16,"y":-0.33},{"x":-0.08,"y":-0.35},{"x":0.00,"y":-0.32},{"x":0.09,"y":-0.36},{"x":0.17,"y":-0.34},{"x":0.25,"y":-0.37},{"x":0.33,"y":-0.33},{"x":0.41,"y":-0.35},{"x":0.49,"y":-0.32},{"x":0.58,"y":-0.36},{"x":0.66,"y":-0.34},{"x":0.74,"y":-0.37},{"x":0.82,"y":-0.33},{"x":0.90,"y":-0.35},{"x":0.99,"y":-0.32},{"x":1.07,"y":-0.36},{"x":1.15,"y":-0.34},{"x":1.23,"y":-0.37},{"x":1.31,"y":-0.33},
{"x":-1.27,"y":-0.41},{"x":-1.19,"y":-0.43},{"x":-1.11,"y":-0.40},{"x":-1.02,"y":-0.42},{"x":-0.94,"y":-0.44},{"x":-0.86,"y":-0.40},{"x":-0.78,"y":-0.43},{"x":-0.70,"y":-0.41},{"x":-0.61,"y":-0.44},{"x":-0.53,"y":-0.40},{"x":-0.45,"y":-0.42},{"x":-0.37,"y":-0.44},{"x":-0.29,"y":-0.40},{"x":-0.20,"y":-0.43},{"x":-0.12,"y":-0.41},{"x":-0.04,"y":-0.44},{"x":0.04,"y":-0.40},{"x":0.13,"y":-0.42},{"x":0.21,"y":-0.44},{"x":0.29,"y":-0.40},{"x":0.37,"y":-0.43},{"x":0.45,"y":-0.41},{"x":0.54,"y":-0.44},{"x":0.62,"y":-0.40},{"x":0.70,"y":-0.42},{"x":0.78,"y":-0.44},{"x":0.86,"y":-0.40},{"x":0.94,"y":-0.43},{"x":1.03,"y":-0.41},{"x":1.11,"y":-0.44},{"x":1.19,"y":-0.40},{"x":1.27,"y":-0.42},
{"x":-1.24,"y":-0.49},{"x":-1.16,"y":-0.51},{"x":-1.07,"y":-0.48},{"x":-0.99,"y":-0.50},{"x":-0.91,"y":-0.47},{"x":-0.83,"y":-0.51},{"x":-0.75,"y":-0.49},{"x":-0.66,"y":-0.52},{"x":-0.58,"y":-0.48},{"x":-0.50,"y":-0.50},{"x":-0.42,"y":-0.47},{"x":-0.33,"y":-0.51},{"x":-0.25,"y":-0.49},{"x":-0.17,"y":-0.52},{"x":-0.09,"y":-0.48},{"x":-0.01,"y":-0.50},{"x":0.08,"y":-0.47},{"x":0.16,"y":-0.51},{"x":0.24,"y":-0.49},{"x":0.32,"y":-0.52},{"x":0.40,"y":-0.48},{"x":0.49,"y":-0.50},{"x":0.57,"y":-0.47},{"x":0.65,"y":-0.51},{"x":0.73,"y":-0.49},{"x":0.81,"y":-0.52},{"x":0.89,"y":-0.48},{"x":0.98,"y":-0.50},{"x":1.06,"y":-0.47},{"x":1.14,"y":-0.51},{"x":1.22,"y":-0.49},{"x":1.29,"y":-0.52},
{"x":-1.20,"y":-0.56},{"x":-1.12,"y":-0.58},{"x":-1.03,"y":-0.55},{"x":-0.95,"y":-0.57},{"x":-0.87,"y":-0.59},{"x":-0.79,"y":-0.55},{"x":-0.70,"y":-0.58},{"x":-0.62,"y":-0.56},{"x":-0.54,"y":-0.59},{"x":-0.46,"y":-0.55},{"x":-0.38,"y":-0.57},{"x":-0.29,"y":-0.59},{"x":-0.21,"y":-0.55},{"x":-0.13,"y":-0.58},{"x":-0.05,"y":-0.56},{"x":0.04,"y":-0.59},{"x":0.12,"y":-0.55},{"x":0.20,"y":-0.57},{"x":0.28,"y":-0.59},{"x":0.36,"y":-0.55},{"x":0.45,"y":-0.58},{"x":0.53,"y":-0.56},{"x":0.61,"y":-0.59},{"x":0.69,"y":-0.55},{"x":0.77,"y":-0.57},{"x":0.86,"y":-0.59},{"x":0.94,"y":-0.55},{"x":1.02,"y":-0.58},{"x":1.10,"y":-0.56},{"x":1.18,"y":-0.59},{"x":1.25,"y":-0.55},
{"x":-1.15,"y":-0.64},{"x":-1.07,"y":-0.66},{"x":-0.99,"y":-0.63},{"x":-0.91,"y":-0.65},{"x":-0.82,"y":-0.62},{"x":-0.74,"y":-0.66},{"x":-0.66,"y":-0.64},{"x":-0.58,"y":-0.67},{"x":-0.49,"y":-0.63},{"x":-0.41,"y":-0.65},{"x":-0.33,"y":-0.62},{"x":-0.25,"y":-0.66},{"x":-0.17,"y":-0.64},{"x":-0.08,"y":-0.67},{"x":0.00,"y":-0.63},{"x":0.08,"y":-0.65},{"x":0.16,"y":-0.62},{"x":0.25,"y":-0.66},{"x":0.33,"y":-0.64},{"x":0.41,"y":-0.67},{"x":0.49,"y":-0.63},{"x":0.57,"y":-0.65},{"x":0.66,"y":-0.62},{"x":0.74,"y":-0.66},{"x":0.82,"y":-0.64},{"x":0.90,"y":-0.67},{"x":0.98,"y":-0.63},{"x":1.07,"y":-0.65},{"x":1.15,"y":-0.62},{"x":1.23,"y":-0.66},
{"x":-1.11,"y":-0.71},{"x":-1.03,"y":-0.73},{"x":-0.94,"y":-0.70},{"x":-0.86,"y":-0.72},{"x":-0.78,"y":-0.74},{"x":-0.62,"y":-0.70},{"x":-0.53,"y":-0.73},{"x":-0.45,"y":-0.71},{"x":-0.37,"y":-0.74},{"x":-0.29,"y":-0.70},{"x":-0.21,"y":-0.72},{"x":-0.12,"y":-0.74},{"x":-0.04,"y":-0.70},{"x":0.04,"y":-0.73},{"x":0.12,"y":-0.71},{"x":0.21,"y":-0.74},{"x":0.29,"y":-0.70},{"x":0.37,"y":-0.72},{"x":0.45,"y":-0.74},{"x":0.53,"y":-0.70},{"x":0.62,"y":-0.73},{"x":0.79,"y":-0.71},{"x":0.87,"y":-0.74},{"x":0.95,"y":-0.70},{"x":1.03,"y":-0.72},{"x":1.12,"y":-0.74},{"x":1.19,"y":-0.70},
{"x":-1.01,"y":-0.79},{"x":-0.93,"y":-0.81},{"x":-0.84,"y":-0.78},{"x":-0.76,"y":-0.80},{"x":-0.68,"y":-0.77},{"x":-0.60,"y":-0.81},{"x":-0.52,"y":-0.79},{"x":-0.43,"y":-0.82},{"x":-0.35,"y":-0.78},{"x":-0.27,"y":-0.80},{"x":-0.19,"y":-0.77},{"x":-0.10,"y":-0.81},{"x":-0.02,"y":-0.79},{"x":0.06,"y":-0.82},{"x":0.14,"y":-0.78},{"x":0.23,"y":-0.80},{"x":0.31,"y":-0.77},{"x":0.39,"y":-0.81},{"x":0.47,"y":-0.79},{"x":0.55,"y":-0.82},{"x":0.64,"y":-0.78},{"x":0.72,"y":-0.80},{"x":0.80,"y":-0.77},{"x":0.88,"y":-0.81},{"x":0.96,"y":-0.79},{"x":1.05,"y":-0.82},{"x":1.13,"y":-0.78},
{"x":-0.96,"y":-0.86},{"x":-0.88,"y":-0.88},{"x":-0.79,"y":-0.85},{"x":-0.71,"y":-0.87},{"x":-0.63,"y":-0.89},{"x":-0.55,"y":-0.85},{"x":-0.46,"y":-0.88},{"x":-0.38,"y":-0.86},{"x":-0.30,"y":-0.89},{"x":-0.22,"y":-0.85},{"x":-0.14,"y":-0.87},{"x":-0.05,"y":-0.89},{"x":0.03,"y":-0.85},{"x":0.11,"y":-0.88},{"x":0.19,"y":-0.86},{"x":0.28,"y":-0.89},{"x":0.36,"y":-0.85},{"x":0.44,"y":-0.87},{"x":0.52,"y":-0.89},{"x":0.60,"y":-0.85},{"x":0.69,"y":-0.88},{"x":0.77,"y":-0.86},{"x":0.85,"y":-0.89},{"x":0.93,"y":-0.85},{"x":1.01,"y":-0.87},{"x":1.10,"y":-0.89},{"x":1.16,"y":-0.85},
{"x":-0.86,"y":-0.94},{"x":-0.78,"y":-0.96},{"x":-0.70,"y":-0.93},{"x":-0.61,"y":-0.95},{"x":-0.53,"y":-0.92},{"x":-0.45,"y":-0.96},{"x":-0.37,"y":-0.94},{"x":-0.29,"y":-0.97},{"x":-0.20,"y":-0.93},{"x":-0.12,"y":-0.95},{"x":-0.04,"y":-0.92},{"x":0.04,"y":-0.96},{"x":0.13,"y":-0.94},{"x":0.21,"y":-0.97},{"x":0.29,"y":-0.93},{"x":0.37,"y":-0.95},{"x":0.45,"y":-0.92},{"x":0.54,"y":-0.96},{"x":0.62,"y":-0.94},{"x":0.70,"y":-0.97},{"x":0.78,"y":-0.93},{"x":0.87,"y":-0.95},{"x":0.95,"y":-0.92},{"x":1.03,"y":-0.96},{"x":1.10,"y":-0.94},
{"x":-0.77,"y":-1.01},{"x":-0.68,"y":-1.03},{"x":-0.60,"y":-1.00},{"x":-0.52,"y":-1.02},{"x":-0.44,"y":-1.04},{"x":-0.35,"y":-1.00},{"x":-0.27,"y":-1.03},{"x":-0.19,"y":-1.01},{"x":-0.11,"y":-1.04},{"x":-0.02,"y":-1.00},{"x":0.06,"y":-1.02},{"x":0.14,"y":-1.04},{"x":0.22,"y":-1.00},{"x":0.31,"y":-1.03},{"x":0.39,"y":-1.01},{"x":0.47,"y":-1.04},{"x":0.55,"y":-1.00},{"x":0.64,"y":-1.02},{"x":0.72,"y":-1.04},{"x":0.80,"y":-1.00},{"x":0.88,"y":-1.03},{"x":0.97,"y":-1.01},{"x":1.05,"y":-1.04},
{"x":-0.66,"y":-1.09},{"x":-0.58,"y":-1.11},{"x":-0.49,"y":-1.08},{"x":-0.41,"y":-1.10},{"x":-0.33,"y":-1.07},{"x":-0.24,"y":-1.11},{"x":-0.16,"y":-1.09},{"x":-0.08,"y":-1.12},{"x":0.00,"y":-1.08},{"x":0.09,"y":-1.10},{"x":0.17,"y":-1.07},{"x":0.25,"y":-1.11},{"x":0.33,"y":-1.09},{"x":0.42,"y":-1.12},{"x":0.50,"y":-1.08},{"x":0.58,"y":-1.10},{"x":0.66,"y":-1.07},{"x":0.75,"y":-1.11},{"x":0.83,"y":-1.09},{"x":0.91,"y":-1.12},{"x":0.99,"y":-1.08},
{"x":-0.58,"y":-1.16},{"x":-0.50,"y":-1.18},{"x":-0.42,"y":-1.15},{"x":-0.33,"y":-1.17},{"x":-0.25,"y":-1.19},{"x":-0.17,"y":-1.15},{"x":-0.09,"y":-1.18},{"x":0.00,"y":-1.16},{"x":0.08,"y":-1.19},{"x":0.16,"y":-1.15},{"x":0.24,"y":-1.17},{"x":0.33,"y":-1.19},{"x":0.41,"y":-1.15},{"x":0.49,"y":-1.18},{"x":0.57,"y":-1.16},{"x":0.66,"y":-1.19},{"x":0.74,"y":-1.15},{"x":0.82,"y":-1.17},{"x":0.90,"y":-1.19},{"x":0.96,"y":-1.15},
{"x":-0.49,"y":-1.24},{"x":-0.41,"y":-1.26},{"x":-0.32,"y":-1.23},{"x":-0.24,"y":-1.25},{"x":-0.16,"y":-1.22},{"x":-0.07,"y":-1.26},{"x":0.01,"y":-1.24},{"x":0.09,"y":-1.27},{"x":0.18,"y":-1.23},{"x":0.26,"y":-1.25},{"x":0.34,"y":-1.22},{"x":0.42,"y":-1.26},{"x":0.51,"y":-1.24},{"x":0.59,"y":-1.27},{"x":0.67,"y":-1.23},{"x":0.76,"y":-1.25},{"x":0.84,"y":-1.22},
{"x":-0.38,"y":-1.30},{"x":-0.29,"y":-1.32},{"x":-0.20,"y":-1.29},{"x":-0.11,"y":-1.33},{"x":-0.02,"y":-1.31},{"x":0.07,"y":-1.34},{"x":0.16,"y":-1.30},{"x":0.25,"y":-1.33},{"x":0.34,"y":-1.29},{"x":0.43,"y":-1.32},{"x":0.52,"y":-1.30},{"x":0.61,"y":-1.33},{"x":0.70,"y":-1.29},{"x":0.79,"y":-1.32},{"x":0.88,"y":-1.30},
{"x":-0.25,"y":-1.39},{"x":-0.14,"y":-1.41},{"x":-0.03,"y":-1.38},{"x":0.08,"y":-1.40},{"x":0.19,"y":-1.42},{"x":0.30,"y":-1.39},{"x":0.41,"y":-1.41},{"x":0.52,"y":-1.38},{"x":0.63,"y":-1.42},{"x":0.74,"y":-1.39},{"x":0.85,"y":-1.41}
  ]
},
"hconcat": [
  {
    "title": {"text": "(a)", "orient": "bottom", "anchor": "middle", "font": "Liberation Serif", "fontSize": 25, "dx": 38, "offset": 20},
    "resolve": {"scale": {"color": "independent"}, "legend": {"color": "independent"}},
    "vconcat": [
      {
        "title": {"text": "Physical Channel Impulse Response", "offset": 6, "frame": "group"},
        "width": 433,
        "height": 437,
        "data": {"name": "stem"},
        "resolve": {"axis": {"x": "independent", "y": "independent"}},
        "layer": [
          {
            "mark": {"type": "rule", "color": "black", "strokeWidth": 1},
            "encoding": {"y": {"datum": 0, "type": "quantitative", "scale": {"domain": [-0.8, 0.6], "nice": false, "zero": false}, "axis": null}}
          },
          {
            "mark": {"type": "rule", "strokeWidth": 1.2},
            "encoding": {
              "x": {"field": "n", "type": "quantitative", "scale": {"domain": [-10, 150], "nice": false, "zero": false}, "axis": {"orient": "bottom", "values": [0, 50, 100, 150], "title": "Samples", "titlePadding": 6, "labelPadding": 20}},
              "y": {"field": "v", "type": "quantitative", "axis": {"orient": "left", "values": [-0.8, -0.6, -0.4, -0.2, 0, 0.2, 0.4, 0.6], "format": "~g", "title": "Scale Factor", "titlePadding": 16}},
              "y2": {"datum": 0},
              "color": {"field": "part", "type": "nominal", "scale": {"domain": ["Real", "Imaginary"], "range": ["#0000ff", "#ff0000"]},
                "legend": {"title": null, "orient": "bottom-right", "offset": 11, "symbolType": "M-6.7,0L-0.91,0M0.91,0A0.91,0.91,0,1,1,-0.91,0A0.91,0.91,0,1,1,0.91,0", "symbolSize": 256, "symbolStrokeWidth": 1, "symbolFillColor": "transparent", "symbolOffset": 49, "labelOffset": 20, "labelFontSize": 25, "labelFont": "Liberation Sans", "labelColor": "black", "padding": 8, "rowPadding": 5, "strokeColor": "black", "fillColor": "white"}}
            }
          },
          {
            "mark": {"type": "point", "filled": false, "size": 177, "strokeWidth": 1, "opacity": 1},
            "encoding": {
              "x": {"field": "n", "type": "quantitative", "axis": {"orient": "top", "values": [0, 50, 100, 150], "labels": false, "labelPadding": 0, "title": null}},
              "y": {"field": "v", "type": "quantitative", "axis": {"orient": "right", "values": [-0.8, -0.6, -0.4, -0.2, 0, 0.2, 0.4, 0.6], "labels": false, "labelPadding": 0, "title": null}},
              "color": {"field": "part", "type": "nominal",
                "legend": {"title": null, "orient": "bottom-right", "offset": 11, "symbolType": "M-6.7,0L-0.91,0M0.91,0A0.91,0.91,0,1,1,-0.91,0A0.91,0.91,0,1,1,0.91,0", "symbolSize": 256, "symbolStrokeWidth": 1, "symbolFillColor": "transparent", "symbolOffset": 49, "labelOffset": 20, "labelFontSize": 25, "labelFont": "Liberation Sans", "labelColor": "black", "padding": 8, "rowPadding": 5, "strokeColor": "black", "fillColor": "white"}}
            }
          }
        ]
      }
    ]
  },
  {
    "title": {"text": "(b)", "orient": "bottom", "anchor": "middle", "font": "Liberation Serif", "fontSize": 25, "dx": -17, "offset": 15},
    "vconcat": [
      {
        "title": {"text": "Received Symbols, No Equalization", "offset": 6, "frame": "group"},
        "width": 485,
        "height": 475,
        "resolve": {"axis": {"x": "independent", "y": "independent"}},
        "layer": [
          {
            "data": {"name": "core"},
            "mark": {"type": "circle", "size": 58, "color": "#0000ff", "opacity": 1},
            "encoding": {
              "x": {"field": "x", "type": "quantitative", "scale": {"domain": [-2.5, 2.5], "nice": false, "zero": false}, "axis": {"orient": "bottom", "values": [-2, -1, 0, 1, 2], "title": null, "labelPadding": 17}},
              "y": {"field": "y", "type": "quantitative", "scale": {"domain": [-2.5, 2.5], "nice": false, "zero": false}, "axis": {"orient": "left", "values": [-2.5, -2, -1.5, -1, -0.5, 0, 0.5, 1, 1.5, 2, 2.5], "format": "~g", "title": null}}
            }
          },
          {
            "data": {"name": "rx"},
            "mark": {"type": "circle", "size": 26, "color": "#0000ff", "opacity": 1},
            "encoding": {
              "x": {"field": "x", "type": "quantitative", "axis": null},
              "y": {"field": "y", "type": "quantitative", "axis": null}
            }
          },
          {
            "data": {"name": "ref"},
            "mark": {"type": "point", "filled": true, "fill": "white", "stroke": "#ff0000", "strokeWidth": 5, "size": 227, "opacity": 1},
            "encoding": {
              "x": {"field": "x", "type": "quantitative", "axis": {"orient": "top", "values": [-2, -1, 0, 1, 2], "labels": false, "labelPadding": 0, "title": null}},
              "y": {"field": "y", "type": "quantitative", "axis": {"orient": "right", "values": [-2.5, -2, -1.5, -1, -0.5, 0, 0.5, 1, 1.5, 2, 2.5], "labels": false, "labelPadding": 0, "title": null}}
            }
          },
          {
            "data": {"name": "ref"},
            "mark": {"type": "circle", "size": 20, "color": "#0000ff", "opacity": 1},
            "encoding": {
              "x": {"field": "x", "type": "quantitative", "axis": null},
              "y": {"field": "y", "type": "quantitative", "axis": null}
            }
          }
        ]
      }
    ]
  }
]
}
